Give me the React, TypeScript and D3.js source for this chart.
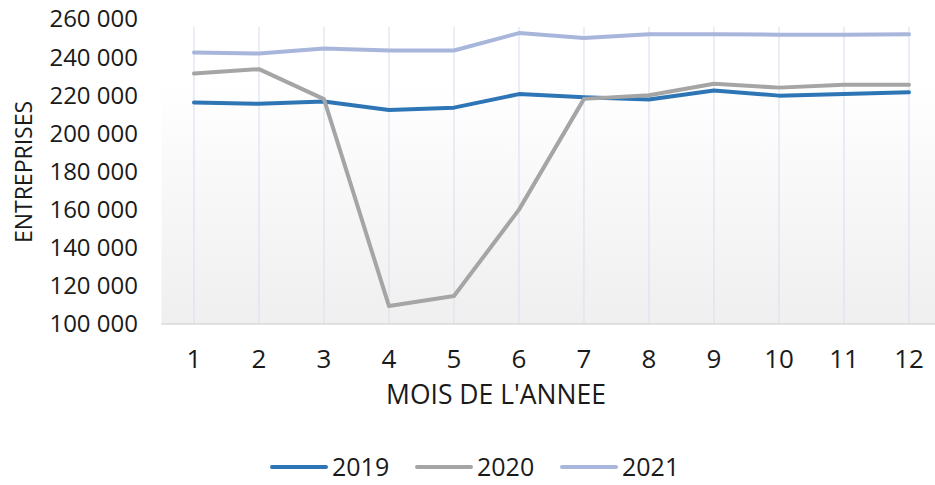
import React from "react";
import * as d3 from "d3";

// months 1..12
const months = ["1", "2", "3", "4", "5", "6", "7", "8", "9", "10", "11", "12"];
const years = ["2019", "2020", "2021"];

const values2019 = [216200, 215500, 216700, 212300, 213500, 220600, 219000, 217800, 222500, 219800, 220600, 221600];
const values2020 = [231400, 233700, 218000, 109400, 114700, 160000, 218100, 220000, 226000, 224000, 225500, 225500];
const values2021 = [242400, 241900, 244500, 243500, 243500, 252600, 250000, 252000, 252000, 251800, 251800, 252000];

const yTicks = [100000, 120000, 140000, 160000, 180000, 200000, 220000, 240000, 260000];

const colors = ["#2e75b6", "#a5a5a5", "#a9b6dc"];

const W = 935;
const H = 485;
const plotLeft = 161.5;
const plotRight = 941.5;
const plotTop = 19;
const plotBottom = 324;

const font = "'Open Sans', 'Noto Sans', sans-serif";

export default function App() {
  const x = d3.scaleBand().domain(months).range([plotLeft, plotRight]);
  const y = d3.scaleLinear().domain([100000, 260000]).range([plotBottom, plotTop]);
  const cx = (m: string) => (x(m) ?? 0) + x.bandwidth() / 2;
  const fmt = (v: number) => d3.format(",")(v).replace(/,/g, " ");

  const line = d3
    .line<number>()
    .x((_, i) => cx(months[i]))
    .y((d) => y(d));

  const series = [values2019, values2020, values2021];

  const legendX = [272, 417, 562];
  const legendY = 467;

  return (
    <svg width={W} height={H} style={{ position: "absolute", left: 0, top: 0, background: "#fff" }}>
      <defs>
        <linearGradient id="bg" x1="0" y1="0" x2="0" y2="1">
          <stop offset="0" stopColor="#ffffff" />
          <stop offset="0.2" stopColor="#ffffff" />
          <stop offset="1" stopColor="#efefef" />
        </linearGradient>
      </defs>
      <rect x={plotLeft} y={plotTop} width={plotRight - plotLeft} height={plotBottom - plotTop} fill="url(#bg)" />
      {months.map((m) => (
        <line key={m} x1={cx(m)} x2={cx(m)} y1={plotTop + 8} y2={plotBottom} stroke="#dce2ef" strokeWidth={1.2} />
      ))}
      <line x1={plotLeft} x2={plotRight} y1={plotBottom} y2={plotBottom} stroke="#d9d9d9" strokeWidth={1.5} />

      {yTicks.map((t) => (
        <text key={t} x={138} y={y(t)} dy="0.35em" textAnchor="end" fontFamily={font} fontSize={24} fill="#1a1a1a">
          {fmt(t)}
        </text>
      ))}
      <text
        transform={`translate(24,172) rotate(-90)`}
        textAnchor="middle"
        dy="0.35em"
        fontFamily={font}
        fontSize={23}
        fill="#1a1a1a"
      >
        ENTREPRISES
      </text>

      {months.map((m) => (
        <text key={m} x={cx(m)} y={358.5} dy="0.35em" textAnchor="middle" fontFamily={font} fontSize={26} fill="#1a1a1a">
          {m}
        </text>
      ))}
      <text x={496} y={394.5} dy="0.35em" textAnchor="middle" fontFamily={font} fontSize={26.5} fill="#1a1a1a">
        MOIS DE L'ANNEE
      </text>

      {series.map((s, i) => (
        <path
          key={years[i]}
          d={line(s) ?? ""}
          fill="none"
          stroke={colors[i]}
          strokeWidth={4}
          strokeLinecap="round"
          strokeLinejoin="round"
        />
      ))}

      {years.map((yr, i) => (
        <g key={yr}>
          <line x1={legendX[i]} x2={legendX[i] + 54} y1={legendY} y2={legendY} stroke={colors[i]} strokeWidth={4} strokeLinecap="round" />
          <text x={legendX[i] + 60} y={legendY} dy="0.35em" fontFamily={font} fontSize={25} fill="#1a1a1a">
            {yr}
          </text>
        </g>
      ))}
    </svg>
  );
}
